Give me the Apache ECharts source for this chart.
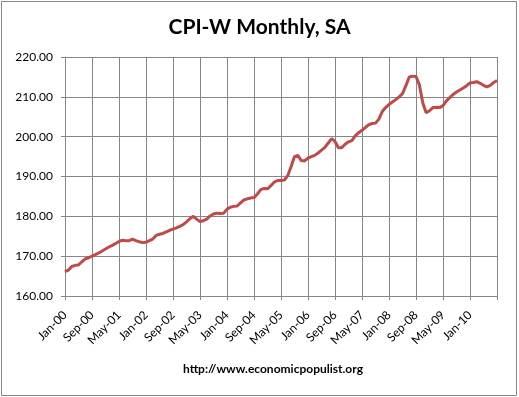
<!DOCTYPE html>
<html>
<head>
<meta charset="utf-8">
<script src="https://cdn.jsdelivr.net/npm/echarts@6/dist/echarts.min.js"></script>
<style>
  html, body { margin: 0; padding: 0; background: #fff; }
  #cpiw { width: 519px; height: 397px; }
</style>
</head>
<body>
<div id="cpiw"></div>
<script>
// month labels, Jan-00 .. Sep-10
var month_names = ['Jan','Feb','Mar','Apr','May','Jun','Jul','Aug','Sep','Oct','Nov','Dec'];
var year_list = ['00','01','02','03','04','05','06','07','08','09','10'];

// CPI-W, seasonally adjusted
var cpi_2000 = [166.1, 166.5, 167.4, 167.7, 167.8, 168.6, 169.3, 169.6, 170.0, 170.4, 170.8, 171.3];
var cpi_2001 = [171.8, 172.3, 172.7, 173.2, 173.7, 174.0, 173.9, 173.9, 174.3, 173.9, 173.6, 173.4];
var cpi_2002 = [173.5, 173.9, 174.3, 175.2, 175.5, 175.7, 176.1, 176.5, 176.8, 177.1, 177.5, 177.9];
var cpi_2003 = [178.6, 179.4, 180.0, 179.3, 178.7, 178.9, 179.3, 180.1, 180.6, 180.8, 180.7, 180.8];
var cpi_2004 = [181.8, 182.3, 182.5, 182.6, 183.4, 184.1, 184.4, 184.6, 184.7, 185.6, 186.7, 187.0];
var cpi_2005 = [186.9, 187.7, 188.6, 189.0, 189.0, 189.1, 190.2, 192.5, 195.0, 195.3, 194.0, 193.9];
var cpi_2006 = [194.6, 195.0, 195.3, 195.9, 196.6, 197.3, 198.4, 199.5, 198.8, 197.2, 197.2, 198.1];
var cpi_2007 = [198.7, 199.0, 200.2, 201.0, 201.6, 202.3, 203.0, 203.3, 203.4, 204.4, 206.3, 207.3];
var cpi_2008 = [208.1, 208.7, 209.3, 210.0, 210.8, 212.8, 215.0, 215.2, 215.1, 213.0, 208.5, 206.0];
var cpi_2009 = [206.5, 207.3, 207.4, 207.3, 207.8, 209.0, 209.8, 210.6, 211.2, 211.7, 212.2, 212.8];
var cpi_2010 = [213.5, 213.6, 213.8, 213.4, 212.9, 212.5, 212.9, 213.6, 214.1];

var y_ticks = [160, 170, 180, 190, 200, 210, 220];

var cpi_list = [].concat(cpi_2000, cpi_2001, cpi_2002, cpi_2003, cpi_2004, cpi_2005,
                         cpi_2006, cpi_2007, cpi_2008, cpi_2009, cpi_2010);
var year_month_list = [];
for (var i = 0; i < cpi_list.length; i++) {
    year_month_list.push(month_names[i % 12] + '-' + year_list[Math.floor(i / 12)]);
}

var chartDom = document.getElementById('cpiw');
var myChart = echarts.init(chartDom);
var option;

var every8 = function (idx) { return idx % 8 === 0; };

option = {
    backgroundColor: '#fff',
    animation: false,
    title: {
        text: 'CPI-W Monthly, SA',
        left: 'center',
        top: 12,
        textStyle: {
            fontFamily: 'Lato',
            fontWeight: 'bold',
            fontSize: 21,
            color: '#000'
        }
    },
    graphic: [
        {
            type: 'rect',
            shape: { x: 1.5, y: 1.5, width: 515, height: 394 },
            style: { fill: 'none', stroke: '#868686', lineWidth: 1 }
        },
        {
            type: 'text',
            left: 183,
            top: 363,
            style: {
                text: 'http://www.economicpopulist.org',
                font: 'bold 12px Lato',
                fill: '#000'
            }
        }
    ],
    grid: {
        left: 65,
        right: 22,
        top: 57,
        bottom: 101
    },
    xAxis: {
        type: 'category',
        data: year_month_list,
        boundaryGap: false,
        axisLine: { lineStyle: { color: '#868686', width: 1 } },
        axisTick: { show: true, interval: every8, length: 4, lineStyle: { color: '#868686' } },
        splitLine: { show: true, interval: every8, lineStyle: { color: '#868686', width: 1 } },
        axisLabel: {
            interval: function (idx) { return idx % 8 === 0 && idx < 128; },
            rotate: 45,
            margin: 17,
            fontFamily: 'Lato',
            fontSize: 12,
            color: '#000'
        }
    },
    yAxis: {
        type: 'value',
        min: y_ticks[0],
        max: y_ticks[y_ticks.length - 1],
        interval: 10,
        axisLine: { show: true, lineStyle: { color: '#868686', width: 1 } },
        axisTick: { show: true, length: 4, lineStyle: { color: '#868686' } },
        splitLine: { show: true, lineStyle: { color: '#868686', width: 1 } },
        axisLabel: {
            formatter: function (v) { return v.toFixed(2); },
            margin: 12,
            fontFamily: 'Lato',
            fontSize: 12,
            color: '#000'
        }
    },
    series: [
        {
            name: 'CPI-W',
            type: 'line',
            data: cpi_list,
            showSymbol: false,
            symbol: 'none',
            lineStyle: { color: '#be4b48', width: 3 },
            itemStyle: { color: '#be4b48' }
        }
    ]
};

option && myChart.setOption(option);
</script>
</body>
</html>
